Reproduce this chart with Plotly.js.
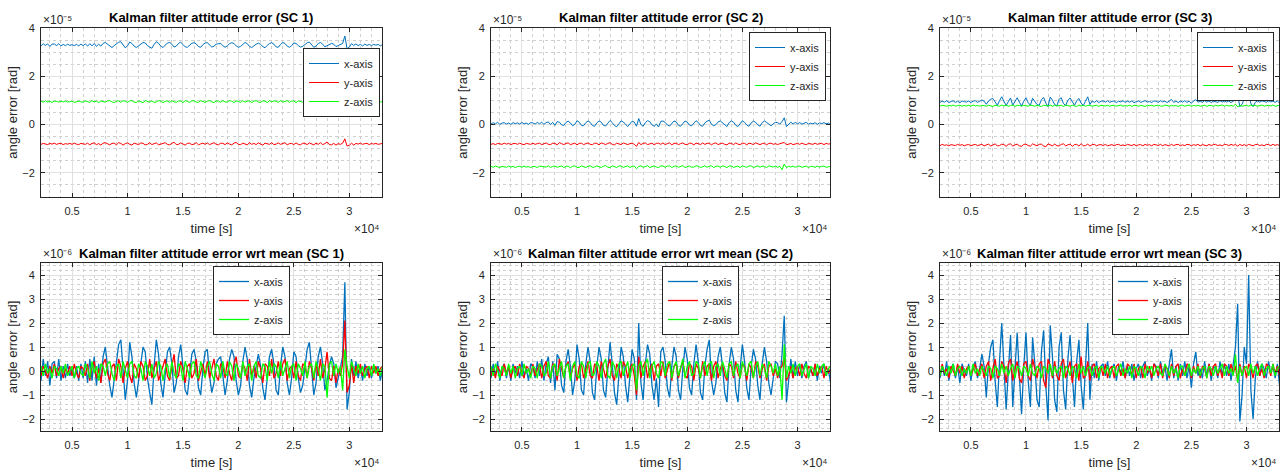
<!DOCTYPE html>
<html><head><meta charset="utf-8">
<script src="https://cdn.plot.ly/plotly-3.0.1.min.js"></script>
<style>html,body{margin:0;padding:0;background:#fff}#plot{width:1287px;height:474px}</style>
</head><body><div id="plot"></div>
<script>
// sampling grid: seconds, 2000 .. 33000 every 200 s
const tStart = 2000, tStep = 200, nSamples = 156;
const timeSec = [];
for (let i = 0; i < nSamples; i++) timeSec.push(tStart + tStep * i);

const seriesNames = ['x-axis', 'y-axis', 'z-axis'];
const seriesColors = ['#0072BD', '#FF0000', '#00FF00'];

// mean attitude error per spacecraft [1e-5 rad]: x, y, z
const sc1Mean = [3.3, -0.8, 0.95];
const sc2Mean = [0.05, -0.8, -1.75];
const sc3Mean = [0.95, -0.85, 0.78];

// attitude error wrt mean [1e-6 rad]
const sc1X = [0.2,-0.4,0.5,-0.2,0.4,-0.6,0.3,0.4,-0.3,0.5,-0.4,0.2,-0.3,0.3,-0.2,0.1,-0.3,0.2,-0.4,0.3,
-0.3,0.4,-0.5,0.5,-0.4,0.6,-0.6,0.3,-0.5,0.6,1.0,0.2,-0.6,-1.1,-0.3,0.5,1.1,1.3,0.2,-1.2,
-0.4,1.2,0.6,-0.5,-1.1,-0.4,0.5,1.0,0.8,-0.3,-0.9,-1.4,0.2,1.3,0.7,-0.5,-1.1,-0.2,0.8,1.0,
0.3,-0.9,-0.5,0.6,1.1,0.2,-0.8,-1.0,-0.2,0.7,0.9,0.4,-0.7,-1.0,0.1,0.8,0.9,-0.2,-0.9,-0.5,
0.3,0.5,0.6,-0.3,-1.0,-0.4,0.5,0.9,0.6,-0.4,-1.0,-0.6,0.4,1.0,0.5,-0.6,-1.1,-0.3,0.3,0.7,
0.2,-0.7,-1.2,-0.2,0.6,0.9,0.3,-0.8,-1.0,0.2,1.0,0.6,-0.5,-1.0,-0.3,0.8,0.6,-0.3,-0.9,-0.6,
0.3,0.9,1.2,0.1,-1.0,-0.5,0.6,1.0,0.3,-0.8,-0.4,0.2,0.6,0.3,-0.7,-0.3,0.1,0.6,3.7,-1.6,
-0.9,0.5,-0.2,0.4,-0.3,0.2,-0.4,0.3,-0.2,0.2,-0.3,0.2,-0.1,0.2,-0.4,0.1];
const sc1Y = [0.1,-0.2,0.2,0.0,-0.3,0.2,-0.1,0.3,-0.2,0.1,0.2,-0.3,0.1,-0.1,0.2,-0.2,0.3,-0.1,-0.3,0.2,
0.1,-0.2,0.3,-0.4,0.2,0.4,-0.3,0.1,-0.5,0.3,0.5,-0.1,-0.4,0.2,0.3,-0.4,0.5,0.2,-0.5,0.1,
0.4,-0.2,-0.5,0.3,0.1,-0.3,0.4,0.2,-0.4,-0.2,0.5,-0.3,0.1,0.4,-0.4,-0.1,0.3,0.5,-0.2,-0.4,
0.2,0.7,-0.3,-0.2,0.4,0.1,-0.5,0.2,0.3,-0.3,-0.1,0.5,-0.4,0.0,0.3,-0.2,0.4,-0.3,0.1,0.5,
-0.2,-0.4,0.3,0.2,-0.3,0.4,-0.1,-0.4,0.3,0.6,-0.2,-0.3,0.3,0.1,-0.4,0.5,-0.2,0.2,-0.3,0.4,
0.1,-0.5,0.3,0.2,-0.2,0.5,-0.3,-0.1,0.4,-0.2,0.3,0.5,-0.4,0.1,0.2,-0.3,0.4,-0.2,-0.4,0.3,
0.2,-0.3,0.4,0.1,-0.4,0.3,-0.2,0.5,-0.3,0.1,0.8,-0.3,-0.4,0.2,-0.5,0.1,-0.2,0.3,2.1,-0.9,
-0.6,0.3,-0.5,0.2,-0.1,0.3,-0.2,0.1,0.2,-0.3,0.2,-0.1,0.2,-0.2,0.1,0.2];
const sc1Z = [0.0,0.2,-0.2,0.3,-0.1,0.1,-0.3,0.2,0.1,-0.2,0.2,-0.1,0.3,-0.2,0.0,0.2,-0.3,0.1,0.2,-0.1,
-0.2,0.3,0.1,-0.3,0.4,-0.1,0.2,-0.4,0.3,0.2,-0.2,0.3,0.4,-0.1,-0.4,0.2,0.3,-0.3,0.4,0.1,
-0.3,0.3,0.4,-0.2,-0.3,0.3,0.1,-0.4,0.4,0.2,-0.2,0.3,-0.3,-0.1,0.4,0.2,-0.4,0.1,0.3,-0.3,
0.4,-0.1,-0.3,0.3,0.2,-0.4,0.4,0.1,-0.3,0.3,0.4,-0.2,-0.3,0.4,0.1,-0.3,0.2,0.4,-0.1,-0.4,
0.3,0.2,-0.3,0.4,-0.1,-0.2,0.4,0.2,-0.4,0.3,0.1,-0.3,0.4,-0.2,0.2,0.3,-0.4,0.2,0.4,-0.2,
-0.3,0.3,0.2,-0.4,0.4,-0.1,0.3,0.2,-0.3,0.4,-0.2,0.1,0.4,-0.3,0.2,0.3,-0.4,0.3,0.1,-0.2,
0.4,-0.3,0.2,0.3,-0.3,0.4,0.1,-0.4,0.3,0.2,-1.1,0.3,0.4,-0.2,0.3,-0.1,0.2,-0.8,0.9,0.2,
-0.3,0.4,0.1,-0.2,0.3,-0.1,0.2,-0.3,0.1,0.2,-0.2,0.3,-0.1,0.1,-0.2,0.2];

const sc2X = [0.4,-0.3,0.3,-0.2,0.4,-0.4,0.1,0.3,-0.3,0.2,-0.4,0.3,-0.1,0.2,-0.3,0.4,-0.2,0.1,-0.4,0.3,
0.2,-0.3,0.4,-0.2,0.5,-0.4,0.3,0.6,-0.5,0.4,-0.8,0.7,0.5,-0.6,-0.9,0.4,0.9,0.2,-1.0,-0.4,
1.1,0.5,-0.8,-1.0,0.3,1.0,0.4,-0.9,-1.2,0.2,1.0,0.5,-0.8,-1.1,0.1,1.2,0.3,-0.9,-1.4,0.0,
1.0,0.6,-0.6,-1.3,-0.2,0.9,0.5,-1.2,2.0,-0.5,-1.2,0.3,1.1,0.7,-0.6,-1.2,-0.3,-1.5,0.8,1.0,
0.4,-0.7,-1.1,0.2,1.0,0.6,-0.8,-1.2,0.1,1.0,0.5,-0.7,-1.0,0.3,1.1,0.4,-0.9,-1.2,0.2,0.9,
1.3,-0.4,-1.0,-0.5,0.6,1.0,0.2,-0.9,-1.3,0.3,1.0,0.5,-0.8,-1.3,0.1,1.1,0.4,-0.7,-1.2,0.2,
0.9,0.5,-0.6,-1.2,0.3,1.0,0.4,-0.5,-1.0,-0.2,0.4,0.3,-0.3,0.7,2.3,-1.3,-0.4,0.5,-0.3,0.4,
-0.2,0.3,-0.3,0.2,0.4,-0.3,0.1,-0.2,0.3,-0.4,0.2,-0.1,0.3,-0.2,0.1,-0.5];
const sc2Y = [0.2,-0.2,0.1,-0.3,0.2,0.0,-0.2,0.3,-0.1,0.2,-0.3,0.1,0.2,-0.2,0.3,-0.1,-0.3,0.2,0.1,-0.2,
0.3,-0.2,0.1,0.3,-0.3,0.2,0.4,-0.2,-0.3,0.3,0.2,-0.4,0.5,0.1,-0.3,0.2,0.4,-0.3,0.1,0.3,
-0.4,0.2,0.3,-0.3,0.1,0.4,-0.2,-0.3,0.3,0.2,-0.4,0.4,0.1,-0.3,0.2,0.5,-0.2,-0.4,0.3,0.1,
-0.3,0.4,0.2,-0.3,0.1,0.3,-0.2,-1.0,0.6,-0.3,0.2,0.4,-0.3,0.1,0.3,-0.4,0.2,0.3,-0.2,0.4,
-0.3,0.1,0.4,-0.4,0.2,0.3,-0.3,0.1,0.4,-0.2,-0.3,0.3,0.2,-0.4,0.3,0.1,-0.3,0.4,-0.2,0.2,
0.3,-0.4,0.2,0.4,-0.3,0.1,0.3,-0.2,-0.4,0.3,0.2,-0.3,0.4,-0.1,-0.3,0.3,0.2,-0.4,0.3,0.1,
-0.3,0.4,0.2,-0.3,0.1,0.3,-0.4,0.2,0.3,-0.2,0.1,-0.3,0.1,0.2,0.6,-0.4,-0.2,0.2,-0.3,0.1,
0.2,-0.2,0.3,-0.1,-0.3,0.2,0.1,-0.2,0.3,-0.2,0.1,0.2,-0.3,0.2,-0.1,0.1];
const sc2Z = [-0.1,0.2,-0.2,0.3,0.0,-0.3,0.2,0.1,-0.2,0.3,-0.1,0.2,-0.3,0.1,0.2,-0.2,0.3,-0.1,0.1,-0.3,
0.2,0.1,-0.3,0.3,0.2,-0.2,-0.1,0.4,-0.3,0.2,0.3,-0.2,0.1,0.4,-0.3,0.2,0.3,-0.4,0.2,0.4,
-0.2,-0.3,0.4,0.2,-0.3,0.3,0.4,-0.2,-0.1,0.4,0.2,-0.3,0.3,0.5,-0.2,-0.3,0.4,0.2,-0.3,0.3,
0.4,-0.2,0.1,0.4,-0.3,0.2,0.3,-0.8,0.2,0.4,-0.2,0.3,0.5,-0.3,0.2,0.4,-0.1,-0.3,0.4,0.3,
-0.2,0.3,0.4,-0.3,0.2,0.4,-0.2,0.1,0.5,-0.3,0.2,0.4,-0.2,-0.1,0.4,0.3,-0.3,0.2,0.4,-0.2,
0.3,0.4,-0.3,0.2,0.3,-0.2,0.4,0.1,-0.3,0.3,0.4,-0.2,0.2,0.3,-0.3,0.4,0.1,-0.2,0.3,0.4,
-0.3,0.2,0.4,-0.2,0.3,0.1,-0.3,0.4,0.2,-0.1,0.3,-0.2,0.2,-1.2,1.1,-0.3,0.2,-0.1,0.3,-0.2,
0.2,0.3,-0.2,0.1,0.3,-0.3,0.2,0.1,-0.2,0.3,-0.1,0.2,0.3,-0.2,0.1,0.2];

const sc3X = [0.5,-0.3,0.2,-0.2,0.4,-0.4,0.1,0.3,-0.3,0.2,-0.5,0.3,0.0,-0.2,0.3,-0.4,0.2,0.4,-0.3,0.1,
0.7,0.2,-1.1,0.3,1.0,1.3,-0.4,-1.5,0.4,2.0,0.2,-1.6,0.0,1.5,-1.5,0.3,1.6,-0.2,-1.8,0.2,
1.6,-0.4,-1.5,1.4,0.3,-1.2,-1.5,0.8,1.7,-0.6,-2.05,1.9,0.6,-1.2,-1.7,1.0,1.6,-0.8,-1.6,0.5,
1.5,-0.2,-1.5,0.4,1.3,-0.6,-1.6,0.2,2.0,-1.2,0.3,-0.3,0.4,-0.4,0.2,0.3,-0.2,0.4,-0.3,0.1,
0.3,-0.4,0.2,-0.1,0.4,-0.3,0.2,-0.2,0.3,-0.4,0.1,0.3,-0.3,0.2,0.4,-0.2,0.1,-0.4,0.3,0.2,
-0.3,0.4,-0.1,0.2,-0.4,0.3,0.9,-0.3,0.2,-0.4,0.3,-0.2,0.4,-0.3,0.2,-0.7,0.3,0.8,-0.2,0.1,
-0.3,0.4,-0.2,0.3,-0.4,0.2,0.1,-0.3,0.4,-0.2,0.3,-0.2,0.3,-0.4,0.2,1.0,2.8,-2.1,-1.0,1.0,
0.3,4.0,-0.8,-2.0,-0.3,0.4,-0.2,0.3,0.1,-0.3,0.4,-0.1,0.2,-0.3,0.3,-0.6];
const sc3Y = [0.2,-0.2,0.3,-0.1,0.1,-0.3,0.2,0.0,-0.2,0.3,-0.1,0.2,-0.3,0.1,0.2,-0.2,0.1,0.3,-0.2,0.1,
0.3,-0.3,0.2,0.4,-0.4,0.1,0.5,-0.3,-0.2,0.4,0.2,-0.5,0.3,0.5,-0.4,0.1,0.4,-0.3,-0.5,0.3,
0.4,-0.2,-0.4,0.5,0.1,-0.3,0.3,0.4,-0.4,-0.7,0.5,0.2,-0.3,0.4,-0.2,-0.4,0.3,0.5,-0.3,0.1,
0.4,-0.5,0.2,0.3,-0.4,0.6,-0.3,-0.2,0.4,-0.4,0.2,0.3,-0.3,0.1,0.2,-0.2,0.3,-0.3,0.1,0.2,
-0.3,0.2,0.3,-0.2,0.1,-0.3,0.3,0.2,-0.2,0.3,-0.3,0.1,0.2,-0.3,0.3,-0.1,0.2,-0.3,0.3,0.1,
-0.2,0.3,-0.3,0.2,0.1,-0.3,0.3,-0.2,0.2,0.3,-0.3,0.1,-0.2,0.3,0.2,-0.3,0.2,-0.1,0.3,-0.3,
0.2,0.1,-0.3,0.3,-0.2,0.2,0.3,-0.2,0.1,-0.3,0.3,0.2,-0.2,0.3,-0.1,0.2,-0.4,0.3,-0.2,0.2,
-0.3,0.3,0.1,-0.3,0.2,0.3,-0.2,0.1,-0.3,0.3,0.2,-0.2,0.3,-0.1,0.2,-0.2];
const sc3Z = [0.1,-0.2,0.2,0.0,-0.2,0.2,-0.1,0.3,-0.2,0.1,0.2,-0.2,0.1,-0.1,0.2,-0.2,0.3,-0.1,0.1,-0.2,
0.2,0.0,-0.2,0.2,0.1,-0.3,0.2,0.1,-0.2,0.3,-0.1,0.2,-0.2,0.1,0.3,-0.3,0.2,0.1,-0.2,0.2,
0.1,-0.2,0.3,-0.1,-0.2,0.2,0.1,-0.3,0.2,0.1,-0.1,0.3,-0.2,0.2,-0.1,0.1,0.2,-0.3,0.2,0.1,
-0.2,0.2,0.1,-0.3,0.3,-0.1,0.2,-0.2,0.1,0.2,-0.2,0.1,0.2,-0.3,0.2,0.1,-0.1,0.2,-0.2,0.1,
0.2,-0.2,0.1,0.3,-0.2,0.1,-0.1,0.2,-0.3,0.2,0.1,-0.2,0.2,0.1,-0.3,0.2,0.0,0.2,-0.2,0.1,
0.2,-0.1,-0.2,0.3,0.1,-0.2,0.2,-0.1,0.1,-0.3,0.2,0.2,-0.2,0.1,0.3,-0.2,0.1,-0.1,0.2,-0.2,
0.1,0.2,-0.3,0.2,0.1,-0.2,0.2,-0.1,0.1,0.3,-0.2,0.2,-0.1,0.1,-0.2,0.7,-0.5,0.2,-0.2,0.1,
0.2,-0.2,0.3,-0.1,0.2,-0.2,0.1,0.3,-0.2,0.1,0.2,-0.1,0.3,-0.2,0.1,0.2];

const topTitles = ['Kalman filter attitude error (SC 1)', 'Kalman filter attitude error (SC 2)', 'Kalman filter attitude error (SC 3)'];
const botTitles = ['Kalman filter attitude error wrt mean (SC 1)', 'Kalman filter attitude error wrt mean (SC 2)', 'Kalman filter attitude error wrt mean (SC 3)'];
const yExpTop = '×10⁻⁵', yExpBot = '×10⁻⁶', xExp = '×10⁴';

const panels = [
  {dev: [sc1X, sc1Y, sc1Z], mean: sc1Mean},
  {dev: [sc2X, sc2Y, sc2Z], mean: sc2Mean},
  {dev: [sc3X, sc3Y, sc3Z], mean: sc3Mean}
];

// ---------------- layout geometry (pixels) ----------------
const W = 1287, H = 474;
const colPx = [[41, 382], [491, 830], [940, 1279]];
const topPx = [28, 197], botPx = [263, 431];
const FONT = 'Liberation Sans, Arial, Helvetica, sans-serif';
const INK = '#262626';

const tx = timeSec.map(t => t / 1e4);

const data = [];
const layout = {
  width: W, height: H,
  margin: {l: 0, r: 0, t: 0, b: 0},
  paper_bgcolor: '#fff', plot_bgcolor: '#fff',
  font: {family: FONT, size: 11, color: INK},
  annotations: [], showlegend: true
};

function xAxis(col, anchor) {
  return {
    domain: [colPx[col][0] / W, colPx[col][1] / W], anchor: anchor,
    range: [0.22, 3.295], dtick: 0.5, tick0: 0,
    ticks: 'inside', ticklen: 4, tickcolor: INK, tickwidth: 1,
    showline: true, mirror: 'ticks', linecolor: INK, linewidth: 1,
    showgrid: true, gridcolor: '#e0e0e0', gridwidth: 1, zeroline: false,
    minor: {dtick: 0.1, showgrid: true, gridcolor: '#cfcfcf', griddash: 'dot', gridwidth: 1},
    tickfont: {family: FONT, size: 11, color: INK}, ticklabelstandoff: 4,
    title: {text: 'time [s]', font: {family: FONT, size: 13, color: INK}, standoff: 7},
    automargin: false, fixedrange: true
  };
}
function yAxis(col, anchor, isTop) {
  return {
    domain: isTop ? [1 - topPx[1] / H, 1 - topPx[0] / H] : [1 - botPx[1] / H, 1 - botPx[0] / H],
    anchor: anchor,
    range: isTop ? [-3, 4] : [-2.5, 4.5], dtick: isTop ? 2 : 1, tick0: 0,
    ticks: 'inside', ticklen: 4, tickcolor: INK, tickwidth: 1,
    showline: true, mirror: 'ticks', linecolor: INK, linewidth: 1,
    showgrid: true, gridcolor: '#e0e0e0', gridwidth: 1, zeroline: false,
    minor: {dtick: isTop ? 0.5 : 0.2, showgrid: true, gridcolor: '#cfcfcf', griddash: 'dot', gridwidth: 1},
    tickfont: {family: FONT, size: 11, color: INK}, ticklabelstandoff: 3,
    title: {text: 'angle error [rad]', font: {family: FONT, size: 13, color: INK}, standoff: 1},
    automargin: false, fixedrange: true
  };
}

const legendPos = [
  [380, 48], [826, 32], [1274, 32],   // top row: right edge, top edge
  [290, 266], [739, 266], [1189, 266] // bottom row
];

for (let p = 0; p < 3; p++) {
  for (let row = 0; row < 2; row++) {
    const n = row * 3 + p + 1;          // axis number 1..6
    const xs = n === 1 ? 'x' : 'x' + n;
    const ys = n === 1 ? 'y' : 'y' + n;
    const lg = n === 1 ? 'legend' : 'legend' + n;
    layout[n === 1 ? 'xaxis' : 'xaxis' + n] = xAxis(p, ys);
    layout[n === 1 ? 'yaxis' : 'yaxis' + n] = yAxis(p, xs, row === 0);
    layout[lg] = {
      x: legendPos[n - 1][0] / W, y: 1 - legendPos[n - 1][1] / H,
      xanchor: 'right', yanchor: 'top', xref: 'paper', yref: 'paper',
      bgcolor: '#fff', bordercolor: INK, borderwidth: 1,
      font: {family: FONT, size: 11, color: INK}, tracegroupgap: 0, itemwidth: 30
    };
    for (let k = 0; k < 3; k++) {
      const dev = panels[p].dev[k];
      const yv = row === 0 ? dev.map(v => panels[p].mean[k] + v / 10) : dev;
      data.push({
        type: 'scatter', mode: 'lines', x: tx, y: yv, xaxis: xs, yaxis: ys,
        name: seriesNames[k], legend: lg, showlegend: true,
        line: {color: seriesColors[k], width: row === 0 ? 1 : 1.3}, hoverinfo: 'skip'
      });
    }
    // title
    const cx = (colPx[p][0] + colPx[p][1]) / 2 / W;
    layout.annotations.push({
      text: '<b>' + (row === 0 ? topTitles[p] : botTitles[p]) + '</b>',
      xref: 'paper', yref: 'paper', x: cx, y: 1 - (row === 0 ? 17 : 253) / H,
      xanchor: 'center', yanchor: 'middle', showarrow: false,
      font: {family: FONT, size: 13, color: '#000'}
    });
    // y exponent
    layout.annotations.push({
      text: row === 0 ? yExpTop : yExpBot,
      xref: 'paper', yref: 'paper', x: colPx[p][0] / W, y: 1 - (row === 0 ? 20 : 254) / H,
      xanchor: 'left', yanchor: 'middle', showarrow: false,
      font: {family: FONT, size: 12, color: INK}
    });
    // x exponent
    layout.annotations.push({
      text: xExp,
      xref: 'paper', yref: 'paper', x: colPx[p][1] / W, y: 1 - (row === 0 ? 229 : 463) / H,
      xanchor: 'right', yanchor: 'middle', showarrow: false,
      font: {family: FONT, size: 12, color: INK}
    });
  }
}

Plotly.newPlot('plot', data, layout, {staticPlot: true, displayModeBar: false});
</script></body></html>
